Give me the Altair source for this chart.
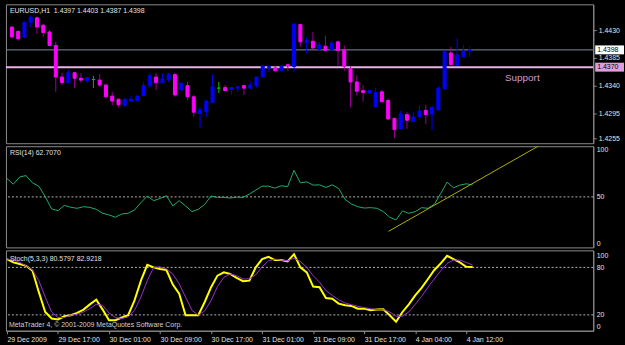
import json
import altair as alt
import numpy as np
import pandas as pd

# ---------------- data ----------------
opens = [1.4435, 1.4428, 1.4419, 1.4443, 1.4450, 1.4438, 1.4427, 1.4405, 1.4354, 1.4345,
         1.4361, 1.4352, 1.4348, 1.4350, 1.4349, 1.4341, 1.4323, 1.4318, 1.4308, 1.4315,
         1.4316, 1.4324, 1.4340, 1.4354, 1.4345, 1.4350, 1.4358, 1.4333, 1.4340, 1.4322,
         1.4295, 1.4298, 1.4313, 1.4336, 1.4337, 1.4334, 1.4336, 1.4340, 1.4336, 1.4340,
         1.4354, 1.4369, 1.4369, 1.4365, 1.4374, 1.4371, 1.4439, 1.4410, 1.4412, 1.4399,
         1.4404, 1.4398, 1.4411, 1.4398, 1.4368, 1.4346, 1.4332, 1.4328, 1.4306, 1.4330,
         1.4316, 1.4287, 1.4270, 1.4293, 1.4282, 1.4290, 1.4300, 1.4294, 1.4301, 1.4335,
         1.4393, 1.4373, 1.4387, 1.4397]
highs = [1.4436, 1.4429, 1.4444, 1.4454, 1.4452, 1.4440, 1.4430, 1.4411, 1.4361, 1.4365,
         1.4362, 1.4360, 1.4354, 1.4356, 1.4359, 1.4343, 1.4330, 1.4319, 1.4319, 1.4324,
         1.4325, 1.4346, 1.4360, 1.4360, 1.4360, 1.4361, 1.4361, 1.4346, 1.4346, 1.4325,
         1.4305, 1.4317, 1.4358, 1.4346, 1.4341, 1.4338, 1.4341, 1.4341, 1.4346, 1.4354,
         1.4373, 1.4373, 1.4372, 1.4373, 1.4375, 1.4440, 1.4440, 1.4419, 1.4427, 1.4411,
         1.4421, 1.4413, 1.4413, 1.4405, 1.4371, 1.4357, 1.4341, 1.4333, 1.4337, 1.4333,
         1.4319, 1.4288, 1.4299, 1.4297, 1.4298, 1.4309, 1.4309, 1.4306, 1.4338, 1.4397,
         1.4403, 1.4417, 1.4406, 1.4403]
lows = [1.4417, 1.4413, 1.4417, 1.4435, 1.4424, 1.4419, 1.4404, 1.4330, 1.4341, 1.4344,
        1.4336, 1.4345, 1.4344, 1.4336, 1.4338, 1.4319, 1.4308, 1.4305, 1.4306, 1.4315,
        1.4315, 1.4323, 1.4337, 1.4333, 1.4344, 1.4346, 1.4322, 1.4333, 1.4317, 1.4290,
        1.4271, 1.4290, 1.4313, 1.4328, 1.4331, 1.4325, 1.4330, 1.4325, 1.4335, 1.4337,
        1.4354, 1.4362, 1.4363, 1.4364, 1.4364, 1.4363, 1.4403, 1.4392, 1.4400, 1.4398,
        1.4396, 1.4396, 1.4373, 1.4364, 1.4305, 1.4324, 1.4314, 1.4327, 1.4305, 1.4313,
        1.4285, 1.4255, 1.4269, 1.4270, 1.4281, 1.4286, 1.4278, 1.4268, 1.4300, 1.4334,
        1.4374, 1.4373, 1.4386, 1.4387]
closes = [1.4419, 1.4416, 1.4443, 1.4451, 1.4435, 1.4426, 1.4405, 1.4354, 1.4345, 1.4361,
          1.4352, 1.4349, 1.4353, 1.4350, 1.4341, 1.4322, 1.4315, 1.4309, 1.4318, 1.4318,
          1.4323, 1.4340, 1.4356, 1.4345, 1.4351, 1.4358, 1.4325, 1.4344, 1.4322, 1.4297,
          1.4301, 1.4315, 1.4338, 1.4336, 1.4332, 1.4337, 1.4338, 1.4336, 1.4341, 1.4354,
          1.4372, 1.4371, 1.4364, 1.4372, 1.4372, 1.4440, 1.4411, 1.4413, 1.4401, 1.4406,
          1.4397, 1.4409, 1.4397, 1.4371, 1.4346, 1.4331, 1.4329, 1.4332, 1.4329, 1.4314,
          1.4286, 1.4269, 1.4294, 1.4284, 1.4289, 1.4299, 1.4293, 1.4305, 1.4336, 1.4395,
          1.4374, 1.4390, 1.4396, 1.4398]

rsi_values = [69.5, 63.5, 71.2, 72.6, 64.9, 61.4, 50.2, 37.2, 35.4, 41.0,
              39.0, 37.9, 39.6, 38.9, 36.8, 32.6, 30.9, 28.4, 31.9, 32.6,
              36.1, 43.9, 50.9, 46.0, 48.4, 51.2, 40.4, 46.0, 40.4, 34.4,
              36.8, 42.1, 50.9, 49.5, 49.5, 48.8, 49.8, 49.5, 53.0, 57.2,
              61.4, 61.4, 59.3, 61.8, 61.0, 78.2, 64.9, 66.0, 62.5, 62.8,
              60.0, 62.8, 58.9, 47.4, 42.5, 39.6, 38.2, 38.6, 37.9, 34.4,
              28.4, 25.6, 35.1, 32.6, 34.4, 38.6, 37.9, 42.1, 53.7, 65.6,
              59.7, 62.5, 63.9, 62.7]

stoch_main = [90.4, 86.3, 84.2, 82.0, 75.8, 48.7, 23.7, 15.4, 14.2, 18.3,
              19.6, 22.5, 26.7, 33.3, 39.2, 26.7, 13.3, 13.3, 16.7, 19.6,
              38.3, 63.3, 83.3, 80.0, 77.9, 76.7, 58.3, 46.7, 19.6, 19.6,
              19.6, 36.3, 55.0, 69.6, 73.7, 71.7, 66.7, 62.5, 63.3, 80.0,
              90.4, 93.3, 89.2, 89.2, 87.5, 96.7, 80.0, 73.7, 55.8, 55.0,
              41.3, 40.4, 34.2, 32.1, 31.3, 27.9, 27.9, 25.8, 26.7, 27.1,
              19.6, 11.3, 23.7, 33.3, 44.6, 54.2, 65.4, 76.7, 85.0, 94.6,
              90.4, 86.3, 80.8, 80.6]
stoch_signal = [90.4, 89.2, 86.3, 82.0, 76.7, 63.3, 42.5, 23.7, 16.7, 16.7,
                19.6, 20.8, 23.7, 27.9, 33.3, 32.1, 22.5, 16.7, 15.4, 17.5,
                25.8, 42.5, 63.3, 80.0, 80.8, 77.9, 71.7, 59.2, 42.5, 25.8,
                19.6, 25.0, 38.3, 55.8, 67.5, 71.7, 69.6, 65.4, 65.4, 70.8,
                80.8, 88.3, 90.4, 89.2, 88.3, 91.7, 87.5, 80.0, 69.6, 61.3,
                50.8, 44.6, 39.2, 35.0, 32.9, 30.8, 29.2, 27.9, 26.7, 26.7,
                23.7, 18.3, 18.3, 23.7, 33.3, 43.3, 55.0, 65.4, 75.8, 85.0,
                89.2, 89.2, 86.3, 82.9]

trend_bars = [59.8, 85.0]
trend_rsi = [13.4, 110.5]

time_tick_bars = [0, 8, 16, 24, 32, 40, 48, 56, 64, 72]
time_tick_labels = ["29 Dec 2009", "29 Dec 17:00", "30 Dec 01:00", "30 Dec 09:00",
                    "30 Dec 17:00", "31 Dec 01:00", "31 Dec 09:00", "31 Dec 17:00",
                    "4 Jan 04:00", "4 Jan 12:00"]
price_ticks = [1.4255, 1.4295, 1.4340, 1.4385, 1.4430]
rsi_ticks = [0, 50, 100]
stoch_ticks = [0, 20, 80, 100]
support_level = 1.4370

header_main = "EURUSD,H1\u00a0\u00a01.4397 1.4403 1.4387 1.4398"
header_rsi = "RSI(14) 62.7070"
header_stoch = "Stoch(5,3,3) 80.5797 82.9218"
copyright_text = "MetaTrader 4, \u00a9 2001-2009 MetaQuotes Software Corp."

# ---------------- tables ----------------
bars = list(range(len(opens)))
df = pd.DataFrame({"bar": bars, "open": opens, "high": highs, "low": lows, "close": closes})
df["kind"] = np.where(df["close"] > df["open"], "up",
                      np.where(df["close"] < df["open"], "down", "doji"))
ind = pd.DataFrame({"bar": bars, "rsi": rsi_values, "k": stoch_main, "d": stoch_signal})
trend = pd.DataFrame({"bar": trend_bars, "rsi": trend_rsi})
levels = pd.DataFrame({
    "price": [closes[-1], support_level],
    "label": [f"{closes[-1]:.4f}", f"{support_level:.4f}"],
    "kind": ["bid", "support"],
})
one = pd.DataFrame({"a": [0]})

FONT = "Liberation Sans"
W = 592
AXC = "#8c8c8c"
TXT = "#e0e0e0"
kinds = ["up", "down", "doji"]

x_scale = alt.Scale(domain=[-0.156, 91.91], nice=False, zero=False)
price_scale = alt.Scale(domain=[1.42467, 1.44718], nice=False, zero=False)
rsi_scale = alt.Scale(domain=[-3.6, 103.8], nice=False, zero=False)
stoch_scale = alt.Scale(domain=[0, 101.5], nice=False, zero=False)

X = alt.X("bar:Q", scale=x_scale, axis=None)


def label(text, x, y, size=7, color=TXT):
    return alt.Chart(one).mark_text(align="left", baseline="middle", font=FONT,
                                    fontSize=size, color=color).encode(
        x=alt.value(x), y=alt.value(y), text=alt.value(text))


price_axis = alt.Axis(orient="right", values=price_ticks, tickCount=20, format=".4f",
                      tickSize=3, labelPadding=2, labelOverlap=False, title=None, grid=False)

# ---------------- main price panel ----------------
base = alt.Chart(df)
wicks = base.mark_rule(strokeWidth=1).encode(
    x=X,
    y=alt.Y("low:Q", scale=price_scale, axis=price_axis),
    y2="high:Q",
    color=alt.Color("kind:N", legend=None,
                    scale=alt.Scale(domain=kinds, range=["#0000ff", "#990099", "#00c000"])),
)
body_scale = alt.Scale(domain=kinds, range=["#0000ff", "#ff00ff", "#00c000"])
bodies = base.mark_bar(size=3, strokeWidth=1).encode(
    x=X,
    y=alt.Y("open:Q", scale=price_scale),
    y2="close:Q",
    fill=alt.Fill("kind:N", scale=body_scale, legend=None),
    stroke=alt.Stroke("kind:N", scale=body_scale, legend=None),
)
lv = alt.Chart(levels)
bid_line = lv.transform_filter("datum.kind == 'bid'").mark_rule(
    color="#7a8fa0", strokeWidth=1).encode(y=alt.Y("price:Q", scale=price_scale))
sup_line = lv.transform_filter("datum.kind == 'support'").mark_rule(
    color="#e8b4e8", strokeWidth=2).encode(y=alt.Y("price:Q", scale=price_scale))
boxes = lv.mark_tick(orient="horizontal", size=29, thickness=9, opacity=1).encode(
    x=alt.value(W + 16.5),
    y=alt.Y("price:Q", scale=price_scale),
    color=alt.Color("kind:N", legend=None,
                    scale=alt.Scale(domain=["bid", "support"], range=["#ffffff", "#dda0dd"])),
)
box_text = lv.mark_text(align="left", baseline="middle", font=FONT, fontSize=7,
                        color="#000000").encode(
    x=alt.value(W + 4), y=alt.Y("price:Q", scale=price_scale), text="label:N")
support_text = lv.transform_filter("datum.kind == 'support'").mark_text(
    align="left", baseline="middle", font=FONT, fontSize=10, color="#d49cd4", dy=11
).encode(x=alt.value(503), y=alt.Y("price:Q", scale=price_scale), text=alt.value("Support"))

main = alt.layer(bid_line, sup_line, wicks, bodies, boxes, box_text, support_text,
                 label(header_main, 4, 6.5)).resolve_scale(color="independent").properties(
    width=W, height=140)

# ---------------- RSI panel ----------------
ic = alt.Chart(ind)
rsi_axis = alt.Axis(orient="right", values=rsi_ticks, tickCount=20, ticks=False,
                    labelPadding=3, labelOverlap=False, title=None, grid=False)
rsi_level = alt.Chart(pd.DataFrame({"v": [50]})).mark_rule(
    color="#b4b4b4", strokeDash=[2, 2], strokeWidth=1).encode(
    y=alt.Y("v:Q", scale=rsi_scale, axis=rsi_axis))
rsi_line = ic.mark_line(color="#1fae6e", strokeWidth=1).encode(
    x=X, y=alt.Y("rsi:Q", scale=rsi_scale))
trend_line = alt.Chart(trend).mark_line(color="#b0b000", strokeWidth=1, clip=True).encode(
    x=X, y=alt.Y("rsi:Q", scale=rsi_scale))
rsi_chart = alt.layer(rsi_level, rsi_line, trend_line,
                      label(header_rsi, 4, 6.5)).properties(width=W, height=102)

# ---------------- Stochastic panel ----------------
label_expr = f"{json.dumps(time_tick_labels)}[round(datum.value / 8)]"
x_axis = alt.Axis(values=time_tick_bars, tickCount=30, labelExpr=label_expr,
                  labelAlign="left", labelBaseline="top", labelFlush=False,
                  labelOverlap=False, tickSize=3, labelPadding=2, title=None, grid=False,
                  labelFontSize=7)
stoch_axis = alt.Axis(
    orient="right", values=stoch_ticks, tickCount=20, ticks=False, labelPadding=3,
    labelOverlap=False, title=None, grid=False,
    labelBaseline=alt.condition("datum.value == 100", alt.value("top"), alt.value("middle")),
    labelOffset=alt.condition("datum.value == 0", alt.value(-4), alt.value(0)),
)
st_levels = alt.Chart(pd.DataFrame({"v": [20, 80]})).mark_rule(
    color="#b4b4b4", strokeDash=[2, 2], strokeWidth=1).encode(
    y=alt.Y("v:Q", scale=stoch_scale, axis=stoch_axis))
k_line = ic.mark_line(color="#ffff00", strokeWidth=2).encode(
    x=alt.X("bar:Q", scale=x_scale, axis=x_axis), y=alt.Y("k:Q", scale=stoch_scale))
d_line = ic.mark_line(color="#9932cc", strokeWidth=1).encode(
    x=alt.X("bar:Q", scale=x_scale), y=alt.Y("d:Q", scale=stoch_scale))
stoch_chart = alt.layer(st_levels, k_line, d_line,
                        label(header_stoch, 4, 9),
                        label(copyright_text, 3, 75, color="#d0d0d0")).properties(
    width=W, height=81)

chart = alt.vconcat(main, rsi_chart, stoch_chart, spacing=3, bounds="flush").properties(
    padding={"left": 2, "top": 2, "right": 0, "bottom": 0},
    background="#000000",
).configure_view(
    stroke=AXC, strokeWidth=1, fill="#000000"
).configure_axis(
    labelFont=FONT, labelFontSize=7, labelColor=TXT, domainColor=AXC, tickColor=AXC,
    domainWidth=1, tickWidth=1,
)

chart.save("out.html", embed_options={"renderer": "svg", "actions": False})
